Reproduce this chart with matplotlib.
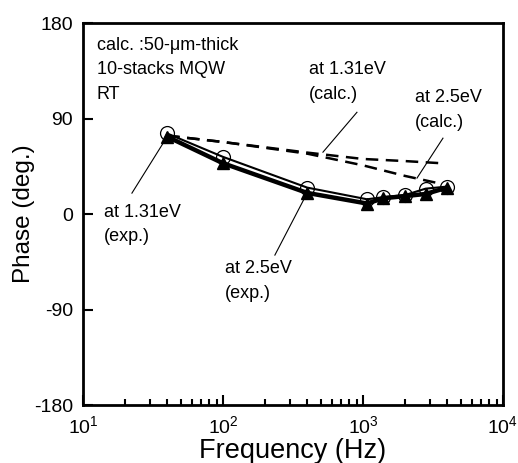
import numpy as np
import matplotlib
matplotlib.use('Agg')
import matplotlib.pyplot as plt

plt.rcParams['font.family'] = ['Liberation Sans', 'DejaVu Sans']
plt.rcParams['mathtext.default'] = 'regular'
plt.rcParams['axes.unicode_minus'] = False

# Données mesurées (exp.)
freq_exp = [40, 100, 400, 1070, 1400, 2000, 2800, 4000]
phase_131_exp = [76, 54, 25, 14, 16, 18, 24, 26]
phase_25_exp = [73, 48, 20, 10, 15, 17, 19, 25]

# Courbes calculées (calc.)
freq_calc = [40, 100, 400, 1000, 2000, 3600]
phase_131_calc = [74, 68, 58, 52, 50, 48]
freq_calc25 = [40, 100, 400, 1000, 2000, 3500]
phase_25_calc = [74, 68, 57, 46, 36, 29]

fig = plt.figure(figsize=(5.18, 4.63), dpi=100)
ax = fig.add_axes([0.160, 0.125, 0.811, 0.825])

# exp.
ax.plot(freq_exp, phase_25_exp, 'k-', lw=3.2, marker='^', ms=8.5, mfc='k', mec='k')
ax.plot(freq_exp, phase_131_exp, 'k-', lw=1.5, marker='o', ms=10, mfc='none', mec='k', mew=0.9)

# calc.
ax.plot(freq_calc, phase_131_calc, 'k--', lw=1.8, dashes=(5, 3))
ax.plot(freq_calc25, phase_25_calc, 'k--', lw=1.8, dashes=(5, 3))

# annotations
fs = 13
ls = 1.6
lw_a = 0.8
ax.plot([22.4, freq_exp[0]], [19.8, phase_25_exp[0]], 'k-', lw=lw_a)
ax.text(14.1, 10, 'at 1.31eV\n(exp.)', fontsize=fs, va='top', ha='left', linespacing=ls)

ax.plot([235, freq_exp[2]], [-38.6, phase_25_exp[2]], 'k-', lw=lw_a)
ax.text(103, -43, 'at 2.5eV\n(exp.)', fontsize=fs, va='top', ha='left', linespacing=ls)

ax.plot([906, 518], [96, 58.4], 'k-', lw=lw_a)
ax.text(411, 144, 'at 1.31eV\n(calc.)', fontsize=fs, va='top', ha='left', linespacing=ls)

ax.plot([3727, 2432], [71.6, 34], 'k-', lw=lw_a)
ax.text(2352, 118, 'at 2.5eV\n(calc.)', fontsize=fs, va='top', ha='left', linespacing=ls)

ax.text(0.033, 0.965, 'calc. :50-\u03bcm-thick\n10-stacks MQW\nRT', transform=ax.transAxes,
        fontsize=fs, va='top', ha='left', linespacing=ls)

ax.set_xscale('log')
ax.set_xlim(10, 1e4)
ax.set_ylim(-180, 180)
ax.set_yticks([-180, -90, 0, 90, 180])

ax.set_xlabel('Frequency (Hz)', fontsize=19.5, labelpad=1)
ax.set_ylabel('Phase (deg.)', fontsize=17.5)
ax.yaxis.set_label_coords(-0.114, 0.5)

for s in ax.spines.values():
    s.set_linewidth(2)
ax.tick_params(which='major', direction='in', length=7, width=1.5, labelsize=14, pad=7)
ax.tick_params(which='minor', direction='in', length=4, width=1.5)

plt.savefig('out.png', dpi=100)
